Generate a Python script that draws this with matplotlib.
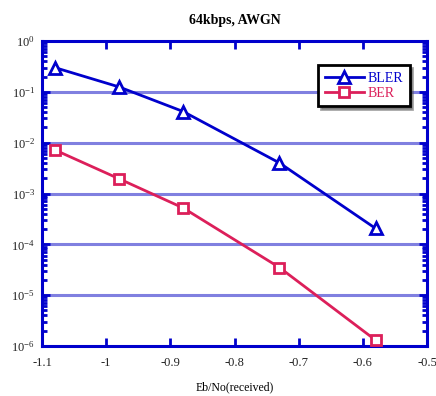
import matplotlib
matplotlib.use("Agg")
import matplotlib.pyplot as plt
from matplotlib.ticker import FixedLocator, NullFormatter, LogFormatterMathtext

plt.rcParams['font.family'] = ['Liberation Serif', 'DejaVu Serif']
plt.rcParams['mathtext.fontset'] = 'custom'
plt.rcParams['mathtext.rm'] = 'Liberation Serif'
plt.rcParams['mathtext.it'] = 'Liberation Serif:italic'
plt.rcParams['axes.unicode_minus'] = False

ebno = [-1.08, -0.98, -0.88, -0.73, -0.58]
bler = [0.30, 0.125, 0.041, 0.0040, 2.05e-4]
ber = [7.2e-3, 1.95e-3, 5.2e-4, 3.5e-5, 1.3e-6]
x_ticks = [-1.1, -1.0, -0.9, -0.8, -0.7, -0.6, -0.5]
x_labels = ['-1.1', '-1', '-0.9', '-0.8', '-0.7', '-0.6', '-0.5']
y_decades = [-6, -5, -4, -3, -2, -1, 0]

blue = '#0000cc'
grid_c = '#8080e0'
red = '#dc1f5a'

fig = plt.figure(figsize=(4.36, 3.96), dpi=100)
ax = fig.add_axes([42/436, 1-346/396, 385/436, 305/396])

ax.set_yscale('log')
ax.set_xlim(-1.1, -0.5)
ax.set_ylim(1e-6, 1)

for e in y_decades[1:-1]:
    ax.axhline(10.0 ** e, color=grid_c, lw=2.2, zorder=1)

ax.plot(ebno, bler, color=blue, lw=2, marker='^', ms=8, mfc='white',
        mec=blue, mew=2, label='BLER', zorder=3, clip_on=False)
ax.plot(ebno, ber, color=red, lw=2, marker='s', ms=7, mfc='white',
        mec=red, mew=2, label='BER', zorder=3, clip_on=False)

for s in ax.spines.values():
    s.set_color(blue)
    s.set_linewidth(2.2)

ax.xaxis.set_major_locator(FixedLocator(x_ticks))
ax.set_xticklabels(x_labels)
ax.yaxis.set_major_locator(FixedLocator([10.0 ** e for e in y_decades]))
ax.yaxis.set_major_formatter(LogFormatterMathtext())
minor = [m * 10.0 ** e for e in y_decades[:-1] for m in range(2, 10)]
ax.yaxis.set_minor_locator(FixedLocator(minor))
ax.yaxis.set_minor_formatter(NullFormatter())

ax.tick_params(axis='both', which='major', direction='in', color=blue,
               width=2, length=6, top=True, right=True, labelsize=9,
               labelcolor='#222222', pad=5)
ax.tick_params(axis='y', which='minor', direction='in', color=blue,
               width=2, length=3.5, left=True, right=True)
ax.tick_params(axis='x', which='major', pad=8)

ax.set_title('64kbps, AWGN', fontsize=10, fontweight='bold', pad=12)
ax.set_xlabel('Eb/No(received)', fontsize=8.5, labelpad=9)

leg = ax.legend(loc='upper right', bbox_to_anchor=(0.955, 0.92),
                fontsize=10, frameon=True, fancybox=False, shadow=True,
                handlelength=2.8, borderpad=0.45, labelspacing=0.15,
                handletextpad=0.3, borderaxespad=0)
leg.get_frame().set_edgecolor('black')
leg.get_frame().set_linewidth(2)
for txt, c in zip(leg.get_texts(), [blue, red]):
    txt.set_color(c)

fig.savefig('out.png', dpi=100)
